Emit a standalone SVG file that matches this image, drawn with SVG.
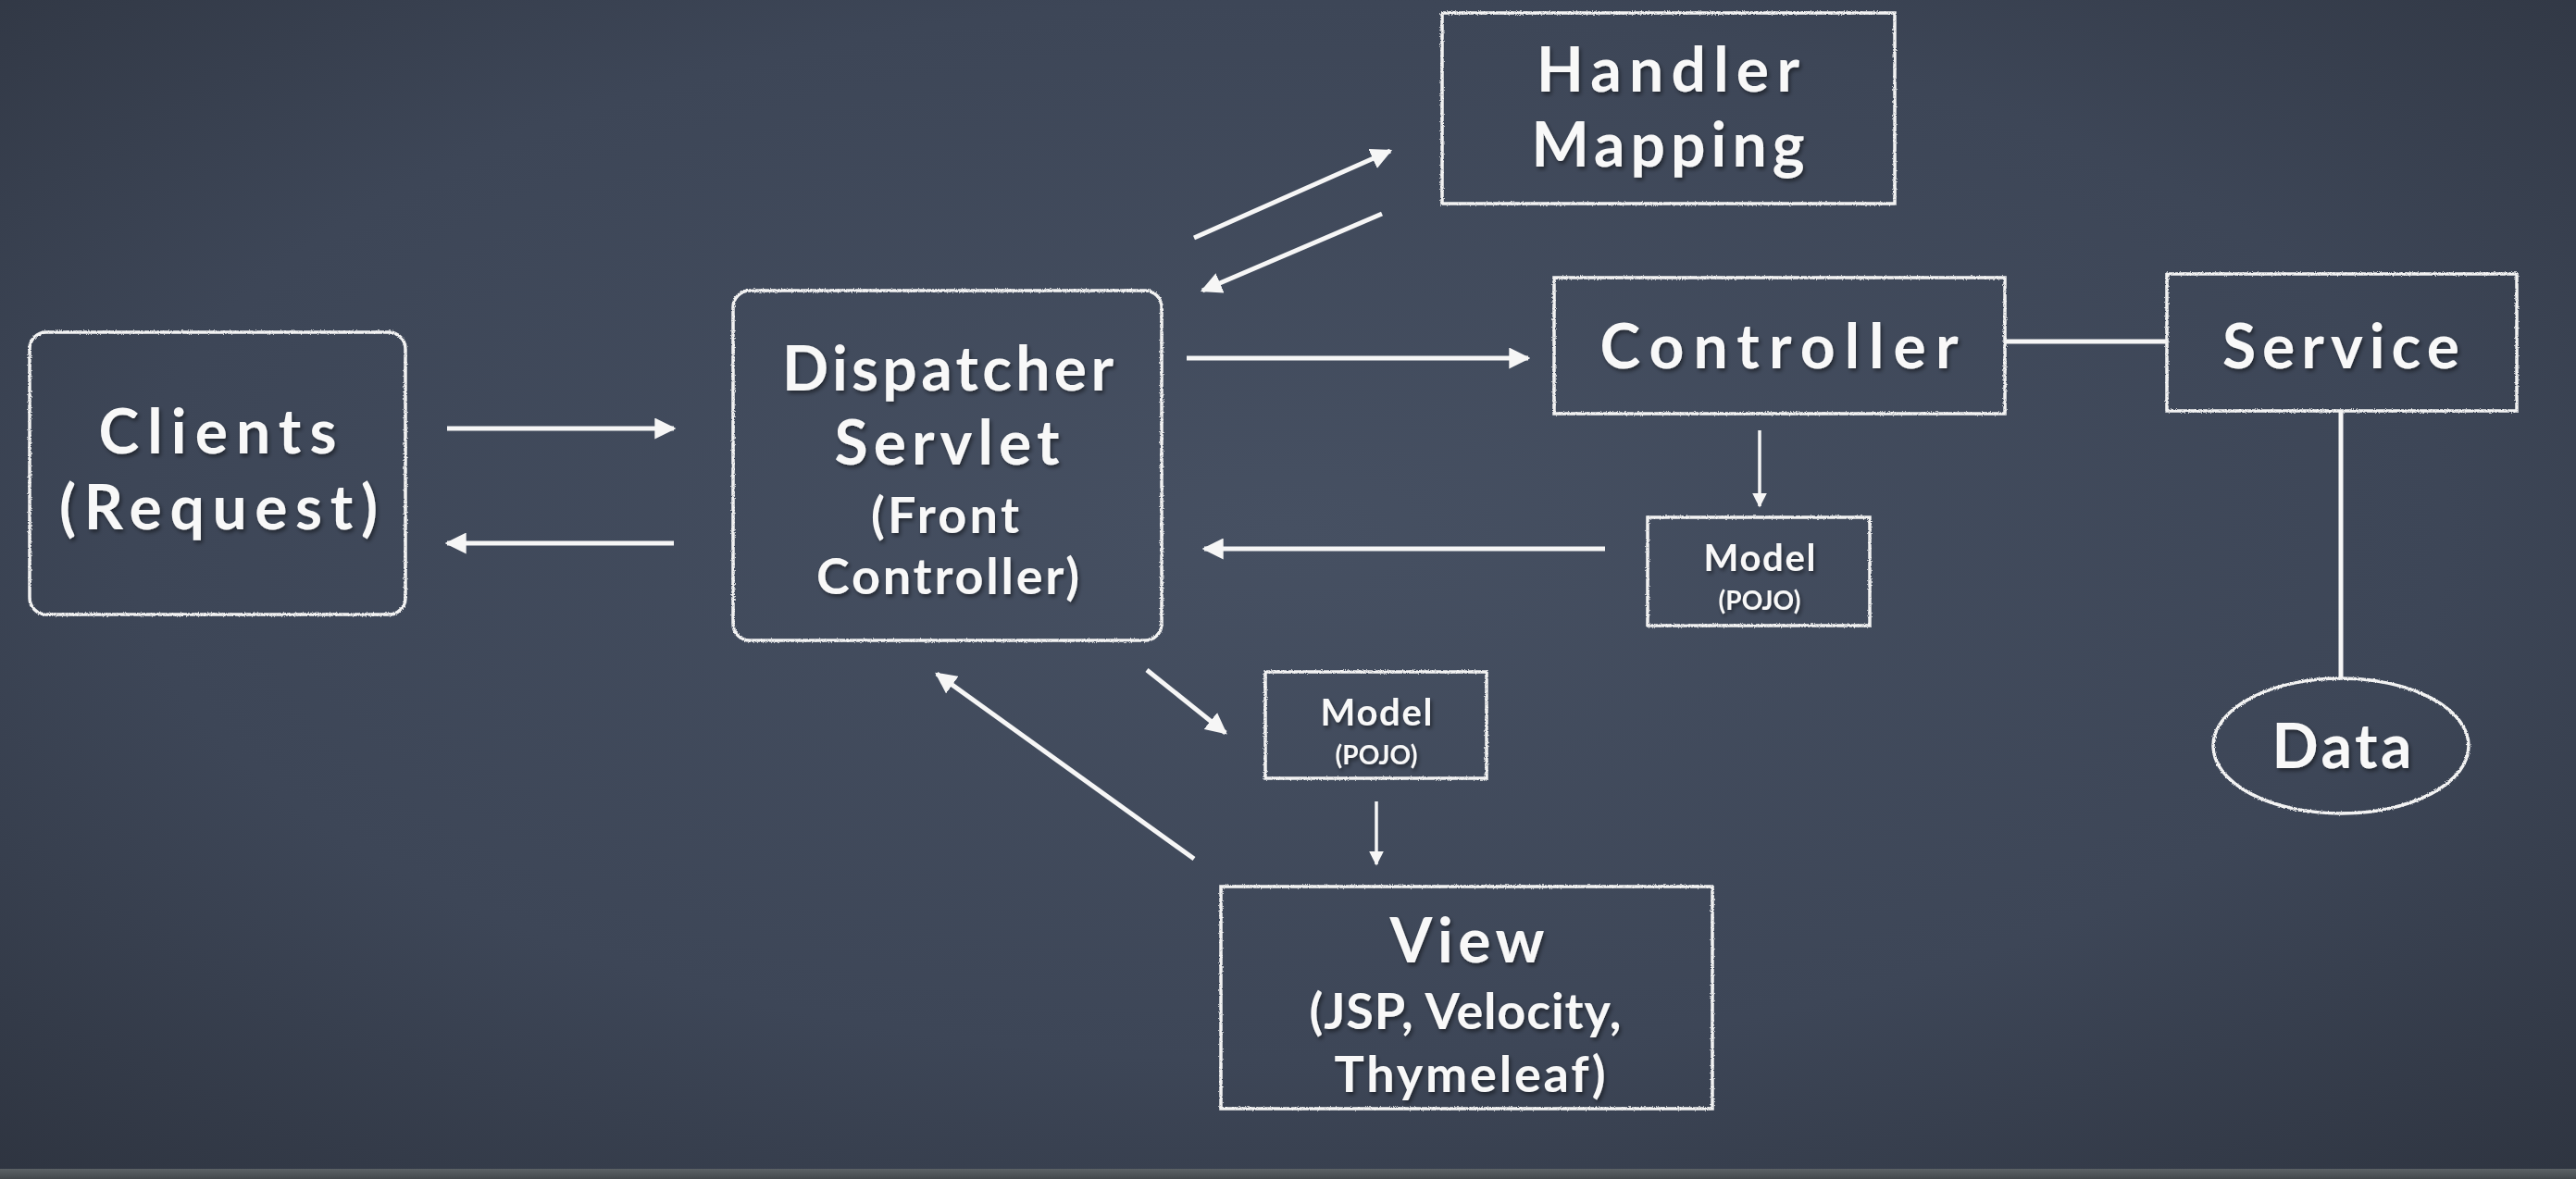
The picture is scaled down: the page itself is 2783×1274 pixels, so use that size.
<svg xmlns="http://www.w3.org/2000/svg" width="2783" height="1274" viewBox="0 0 2783 1274">
  <defs>
    <radialGradient id="board" cx="0.5" cy="0.45" r="0.75">
      <stop offset="0" stop-color="#465062"/>
      <stop offset="0.6" stop-color="#3d4657"/>
      <stop offset="1" stop-color="#2e3440"/>
    </radialGradient>
    <linearGradient id="tray" x1="0" y1="0" x2="0" y2="1">
      <stop offset="0" stop-color="#5c6266"/>
      <stop offset="1" stop-color="#43484c"/>
    </linearGradient>
    <filter id="shadow" x="-10%" y="-10%" width="120%" height="130%">
      <feDropShadow dx="2" dy="3" stdDeviation="2" flood-color="#000" flood-opacity="0.45"/>
    </filter>
    <filter id="chalk" x="-2%" y="-2%" width="104%" height="104%">
      <feTurbulence type="fractalNoise" baseFrequency="0.9" numOctaves="2" seed="3" result="n"/>
      <feDisplacementMap in="SourceGraphic" in2="n" scale="3" xChannelSelector="R" yChannelSelector="G"/>
    </filter>
    <marker id="arrow" viewBox="0 0 10 10" refX="9" refY="5" markerWidth="4.6" markerHeight="4.6" orient="auto" markerUnits="strokeWidth">
      <path d="M0,0 L10,5 L0,10 z" fill="#f6f6f6"/>
    </marker>
  </defs>
  <style>
    .box { fill: none; stroke: #f2f2f2; stroke-width: 3.5; filter: url(#chalk); }
    .conn { stroke: #f6f6f6; stroke-width: 5; fill: none; }
    .arr { marker-end: url(#arrow); }
    text { fill: #f8f8f8; font-family: Lato, "Open Sans", "Liberation Sans", sans-serif; font-weight: bold; text-anchor: middle; filter: url(#shadow); }
    .big { font-size: 66px; }
    .mid { font-size: 54px; }
    .sm { font-size: 40px; }
    .xs { font-size: 28px; }
  </style>

  <rect x="0" y="0" width="2783" height="1274" fill="url(#board)"/>
  <rect x="0" y="1263" width="2783" height="11" fill="url(#tray)"/>

  <g id="connectors">
    <line class="conn arr" x1="483" y1="463" x2="728" y2="463"/>
    <line class="conn arr" x1="728" y1="587" x2="483" y2="587"/>
    <line class="conn arr" x1="1290" y1="257" x2="1502" y2="163"/>
    <line class="conn arr" x1="1493" y1="231" x2="1299" y2="314"/>
    <line class="conn arr" x1="1282" y1="387" x2="1651" y2="387"/>
    <line class="conn" x1="2166" y1="369" x2="2341" y2="369"/>
    <line class="conn" x1="2529" y1="444" x2="2529" y2="733"/>
    <line class="conn arr" x1="1901" y1="465" x2="1901" y2="547" style="stroke-width:3.5"/>
    <line class="conn arr" x1="1734" y1="593" x2="1301" y2="593"/>
    <line class="conn arr" x1="1239" y1="724" x2="1324" y2="792"/>
    <line class="conn arr" x1="1487" y1="866" x2="1487" y2="934" style="stroke-width:3.5"/>
    <line class="conn arr" x1="1290" y1="928" x2="1012" y2="728"/>
  </g>

  <g id="clients">
    <rect class="box" x="32" y="359" width="406" height="305" rx="18"/>
    <text class="big" x="235" y="490" textLength="257" lengthAdjust="spacing">Clients</text>
    <text class="big" x="236" y="572" textLength="344" lengthAdjust="spacing">(Request)</text>
  </g>

  <g id="dispatcher">
    <rect class="box" x="792" y="314" width="463" height="378" rx="18"/>
    <text class="big" x="1024" y="422" textLength="358" lengthAdjust="spacing">Dispatcher</text>
    <text class="big" x="1023" y="502" textLength="243" lengthAdjust="spacing">Servlet</text>
    <text class="mid" x="1021" y="576" textLength="160" lengthAdjust="spacing">(Front</text>
    <text class="mid" x="1024" y="642" textLength="284" lengthAdjust="spacing">Controller)</text>
  </g>

  <g id="handler-mapping">
    <rect class="box" x="1558" y="14" width="489" height="206"/>
    <text class="big" x="1802" y="99" textLength="284" lengthAdjust="spacing">Handler</text>
    <text class="big" x="1802" y="180" textLength="295" lengthAdjust="spacing">Mapping</text>
  </g>

  <g id="controller">
    <rect class="box" x="1679" y="300" width="487" height="147"/>
    <text class="big" x="1922" y="398" textLength="387" lengthAdjust="spacing">Controller</text>
  </g>

  <g id="service">
    <rect class="box" x="2341" y="296" width="378" height="148"/>
    <text class="big" x="2529" y="398" textLength="256" lengthAdjust="spacing">Service</text>
  </g>

  <g id="data">
    <ellipse class="box" cx="2529" cy="806" rx="138" ry="73"/>
    <text class="big" x="2530" y="830" textLength="151" lengthAdjust="spacing">Data</text>
  </g>

  <g id="model-1">
    <rect class="box" x="1780" y="559" width="240" height="117"/>
    <text class="sm" x="1901" y="617" textLength="121" lengthAdjust="spacing">Model</text>
    <text class="xs" x="1901" y="659" textLength="89" lengthAdjust="spacing">(POJO)</text>
  </g>

  <g id="model-2">
    <rect class="box" x="1367" y="726" width="239" height="115"/>
    <text class="sm" x="1487" y="784" textLength="121" lengthAdjust="spacing">Model</text>
    <text class="xs" x="1487" y="826" textLength="89" lengthAdjust="spacing">(POJO)</text>
  </g>

  <g id="view">
    <rect class="box" x="1319" y="958" width="531" height="240"/>
    <text class="big" x="1585" y="1040" textLength="167" lengthAdjust="spacing">View</text>
    <text class="mid" x="1583" y="1112" textLength="337" lengthAdjust="spacing">(JSP, Velocity,</text>
    <text class="mid" x="1588" y="1180" textLength="293" lengthAdjust="spacing">Thymeleaf)</text>
  </g>
</svg>
